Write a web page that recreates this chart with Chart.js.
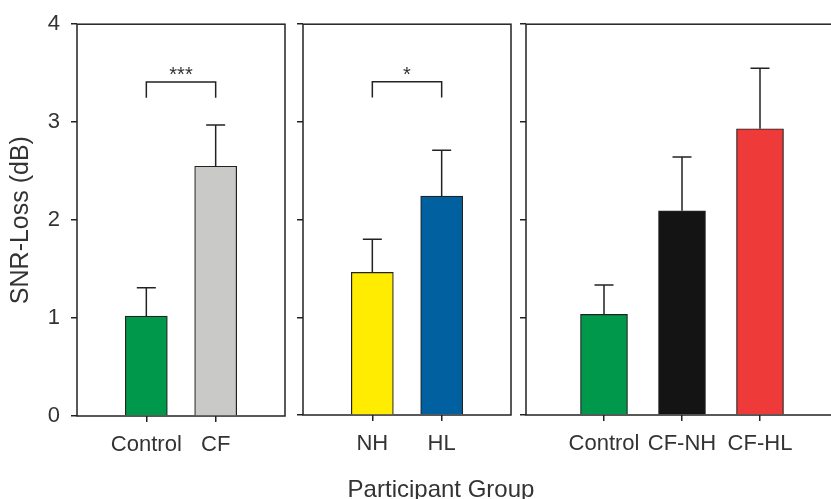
<!DOCTYPE html>
<html>
<head>
<meta charset="utf-8">
<script src="https://cdn.jsdelivr.net/npm/chart.js@4.4.0/dist/chart.umd.min.js"></script>
<style>
  html, body { margin: 0; padding: 0; background: #fff; overflow: hidden; }
  body { width: 831px; height: 499px; position: relative; }
  canvas { position: absolute; top: 0; }
  #xtitle { position: absolute; left: 300px; width: 282px; top: 475px; line-height: 24px; text-align: center;
            font: 24px "Liberation Sans", Arial, sans-serif; color: #333; }
</style>
</head>
<body>
<canvas id="panel1" width="295" height="499" style="left:0px"></canvas>
<canvas id="panel2" width="229" height="499" style="left:292px"></canvas>
<canvas id="panel3" width="332" height="499" style="left:516px"></canvas>
<div id="xtitle">Participant Group</div>
<script>
// y axis
const yTicks = [0, 1, 2, 3, 4];
const yTitle = 'SNR-Loss (dB)';

// panel 1: Control vs CF
const groups1 = ['Control', 'CF'];
const means1 = [1.02, 2.55];
const sem1 = [0.29, 0.42];
const colors1 = ['#00984a', '#c9cac8'];
const sigPair1 = ['Control', 'CF'];
const sigMark1 = '***';
const sigLevel1 = [3.41, 3.25];   // bracket bar, leg ends

// panel 2: NH vs HL
const groups2 = ['NH', 'HL'];
const means2 = [1.46, 2.24];
const sem2 = [0.34, 0.47];
const colors2 = ['#ffec00', '#0060a0'];
const sigPair2 = ['NH', 'HL'];
const sigMark2 = '*';
const sigLevel2 = [3.41, 3.25];

// panel 3: Control, CF-NH, CF-HL
const groups3 = ['Control', 'CF-NH', 'CF-HL'];
const means3 = [1.03, 2.09, 2.93];
const sem3 = [0.30, 0.55, 0.62];
const colors3 = ['#00984a', '#141414', '#ee3b39'];

const INK = '#222';
const TEXT = '#333';
const FONT = '"Liberation Sans", Arial, sans-serif';

// frame round the plot area
const framePlugin = {
    id: 'frame',
    beforeDatasetsDraw(chart) {
        const a = chart.chartArea, ctx = chart.ctx;
        ctx.save();
        ctx.strokeStyle = INK;
        ctx.lineWidth = 1.5;
        ctx.strokeRect(a.left, a.top, a.right - a.left, a.bottom - a.top);
        ctx.restore();
    }
};

// upper error bars
const errorPlugin = {
    id: 'errorBars',
    afterDatasetsDraw(chart) {
        const ctx = chart.ctx, y = chart.scales.y;
        const ds = chart.data.datasets[0];
        const meta = chart.getDatasetMeta(0);
        ctx.save();
        ctx.strokeStyle = INK;
        ctx.lineWidth = 1.5;
        meta.data.forEach((bar, i) => {
            const e = ds.errs[i];
            if (e == null) return;
            const top = y.getPixelForValue(ds.data[i] + e);
            ctx.beginPath();
            ctx.moveTo(bar.x, bar.y);
            ctx.lineTo(bar.x, top);
            ctx.moveTo(bar.x - 9.5, top);
            ctx.lineTo(bar.x + 9.5, top);
            ctx.stroke();
        });
        ctx.restore();
    }
};

// significance bracket
const sigPlugin = {
    id: 'sig',
    afterDatasetsDraw(chart, args, opts) {
        if (!opts || !opts.pair) return;
        const ctx = chart.ctx, x = chart.scales.x, y = chart.scales.y;
        const labels = chart.data.labels;
        const x1 = x.getPixelForValue(labels.indexOf(opts.pair[0]));
        const x2 = x.getPixelForValue(labels.indexOf(opts.pair[1]));
        const yb = y.getPixelForValue(opts.level[0]);
        const yl = y.getPixelForValue(opts.level[1]);
        ctx.save();
        ctx.strokeStyle = INK;
        ctx.lineWidth = 1.5;
        ctx.beginPath();
        ctx.moveTo(x1, yl);
        ctx.lineTo(x1, yb);
        ctx.lineTo(x2, yb);
        ctx.lineTo(x2, yl);
        ctx.stroke();
        ctx.fillStyle = TEXT;
        ctx.font = '20px ' + FONT;
        ctx.textAlign = 'center';
        ctx.textBaseline = 'alphabetic';
        ctx.fillText(opts.mark, (x1 + x2) / 2, yb - 1);
        ctx.restore();
    }
};

function makePanel(id, groups, means, sem, colors, sig, o) {
    // empty categories at both ends put the bars where the figure has them
    const labels = [''].concat(groups, ['']);
    const data = [null].concat(means, [null]);
    const errs = [null].concat(sem, [null]);
    const bg = ['rgba(0,0,0,0)'].concat(colors, ['rgba(0,0,0,0)']);

    return new Chart(document.getElementById(id), {
        type: 'bar',
        data: {
            labels: labels,
            datasets: [{
                data: data,
                errs: errs,
                backgroundColor: bg,
                borderColor: INK,
                borderWidth: 1.2,
                barThickness: o.barWidth
            }]
        },
        options: {
            responsive: false,
            animation: false,
            devicePixelRatio: 1,
            layout: { padding: { top: o.top, right: 0, left: 0, bottom: 0 } },
            plugins: {
                legend: { display: false },
                tooltip: { enabled: false },
                sig: sig
            },
            scales: {
                x: {
                    offset: false,
                    grid: {
                        offset: false,
                        drawOnChartArea: false,
                        drawTicks: true,
                        tickLength: 6,
                        lineWidth: 1.5,
                        color: c => labels[c.index] ? INK : 'rgba(0,0,0,0)'
                    },
                    border: { display: false },
                    ticks: {
                        color: TEXT,
                        font: { family: FONT, size: 22 },
                        padding: 10,
                        autoSkip: false,
                        maxRotation: 0
                    },
                    afterFit: s => { s.height = o.xHeight; }
                },
                y: {
                    min: 0,
                    max: 4,
                    afterBuildTicks: s => { s.ticks = yTicks.map(v => ({ value: v })); },
                    grid: {
                        drawOnChartArea: false,
                        drawTicks: true,
                        tickLength: 6,
                        lineWidth: 1.5,
                        color: INK
                    },
                    border: { display: false },
                    ticks: {
                        color: TEXT,
                        font: { family: FONT, size: 22 },
                        padding: 11,
                        callback: v => o.yLabels ? v : ''
                    },
                    title: {
                        display: o.yLabels,
                        text: yTitle,
                        color: TEXT,
                        font: { family: FONT, size: 25 },
                        padding: { top: 6, bottom: 0 }
                    },
                    afterFit: s => { s.width = o.yWidth; }
                }
            }
        },
        plugins: [framePlugin, errorPlugin, sigPlugin]
    });
}

makePanel('panel1', groups1, means1, sem1, colors1,
    { pair: sigPair1, mark: sigMark1, level: sigLevel1 },
    { top: 22, xHeight: 83, yWidth: 77, barWidth: 42, yLabels: true });

makePanel('panel2', groups2, means2, sem2, colors2,
    { pair: sigPair2, mark: sigMark2, level: sigLevel2 },
    { top: 21, xHeight: 84, yWidth: 11, barWidth: 42, yLabels: false });

makePanel('panel3', groups3, means3, sem3, colors3, false,
    { top: 21, xHeight: 84, yWidth: 10, barWidth: 47, yLabels: false });
</script>
</body>
</html>
